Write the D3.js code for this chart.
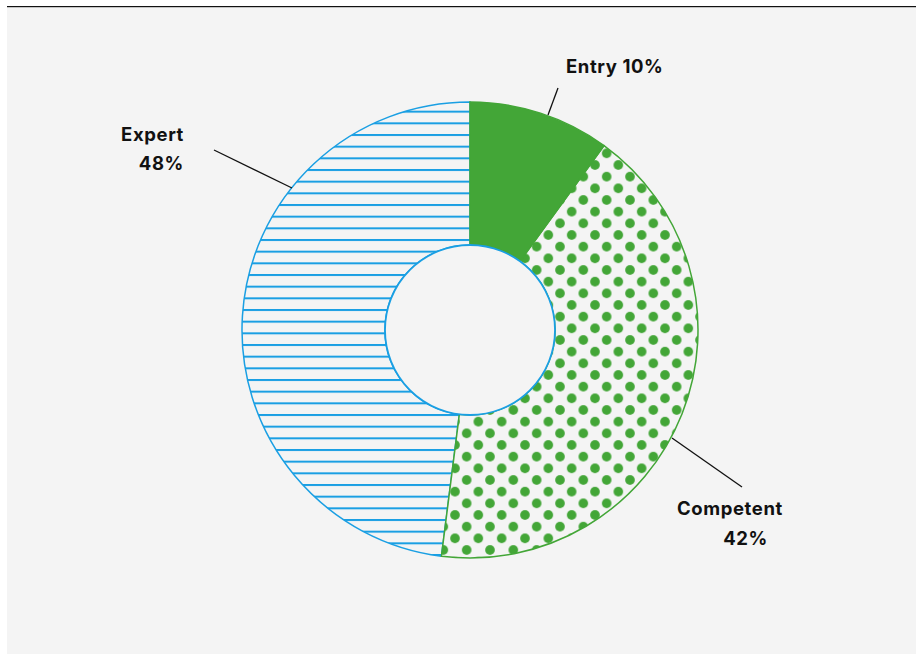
<!DOCTYPE html>
<html><head><meta charset="utf-8">
<script src="https://cdn.jsdelivr.net/npm/d3@7"></script>
<style>
html,body{margin:0;padding:0;background:#fff;}
svg{display:block;}
text{font-family:Inter,"Noto Sans",sans-serif;font-weight:700;fill:#111;letter-spacing:0.6px;}
</style></head>
<body>
<svg id="chart" width="916" height="654"></svg>
<script>
const categories = ["Entry", "Competent", "Expert"];
const values = [10, 42, 48];
const labelNames = ["Entry 10%", "Competent", "Expert"];
const labelPcts = ["", "42%", "48%"];

const svg = d3.select("#chart");
const W = 916, H = 654;
const green = "#43a637", blue = "#1a9fe3", bg = "#f4f4f4";

svg.append("rect").attr("x", 7).attr("y", 8).attr("width", W - 7).attr("height", H - 8).attr("fill", bg);
svg.append("line").attr("x1", 7).attr("x2", W).attr("y1", 6.6).attr("y2", 6.6).attr("stroke", "#111").attr("stroke-width", 1.4);

const defs = svg.append("defs");
const step = 70 / 6; // 11.67
const pLines = defs.append("pattern").attr("id", "lines").attr("patternUnits", "userSpaceOnUse")
  .attr("x", 0).attr("y", 330 - 1).attr("width", 20).attr("height", step);
pLines.append("rect").attr("width", 20).attr("height", step).attr("fill", bg);
pLines.append("rect").attr("y", 0).attr("width", 20).attr("height", 2).attr("fill", blue);

const pDots = defs.append("pattern").attr("id", "dots").attr("patternUnits", "userSpaceOnUse")
  .attr("x", 545).attr("y", 255).attr("width", 2 * step).attr("height", 2 * step);
pDots.append("rect").attr("width", 2 * step).attr("height", 2 * step).attr("fill", bg);
[[0, 0], [2 * step, 0], [0, 2 * step], [2 * step, 2 * step], [step, step]].forEach(([x, y]) =>
  pDots.append("circle").attr("cx", x).attr("cy", y).attr("r", 4.8).attr("fill", green));

const cx = 470, cy = 330, rOut = 228, rIn = 85;
const fills = ["green", "url(#dots)", "url(#lines)"];
const strokes = [green, green, blue];

const pie = d3.pie().sort(null).startAngle(0).endAngle(2 * Math.PI)(values);
const arc = d3.arc().innerRadius(rIn).outerRadius(rOut);
const g = svg.append("g").attr("transform", `translate(${cx},${cy})`);

const order = [2, 1, 0];
order.forEach(i => {
  g.append("path").attr("d", arc(pie[i]))
    .attr("fill", i === 0 ? green : fills[i])
    .attr("stroke", strokes[i]).attr("stroke-width", 1.5);
});
g.append("circle").attr("r", rIn).attr("fill", bg).attr("stroke", blue).attr("stroke-width", 1.8);

const leaders = [
  [[548, 115], [558, 88]],
  [[672, 438], [742, 487]],
  [[292, 188], [214, 150]]
];
leaders.forEach(([a, b]) => svg.append("line").attr("x1", a[0]).attr("y1", a[1]).attr("x2", b[0]).attr("y2", b[1])
  .attr("stroke", "#111").attr("stroke-width", 1.3));

const fs = 18.5;
svg.append("text").attr("x", 566).attr("y", 72.5).attr("font-size", fs).text(labelNames[0]);
svg.append("text").attr("x", 677).attr("y", 515).attr("font-size", fs).text(labelNames[1]);
svg.append("text").attr("x", 768).attr("y", 545).attr("text-anchor", "end").attr("font-size", fs).text(labelPcts[1]);
svg.append("text").attr("x", 184).attr("y", 141).attr("text-anchor", "end").attr("font-size", fs).text(labelNames[2]);
svg.append("text").attr("x", 184).attr("y", 170).attr("text-anchor", "end").attr("font-size", fs).text(labelPcts[2]);
</script>
</body></html>
